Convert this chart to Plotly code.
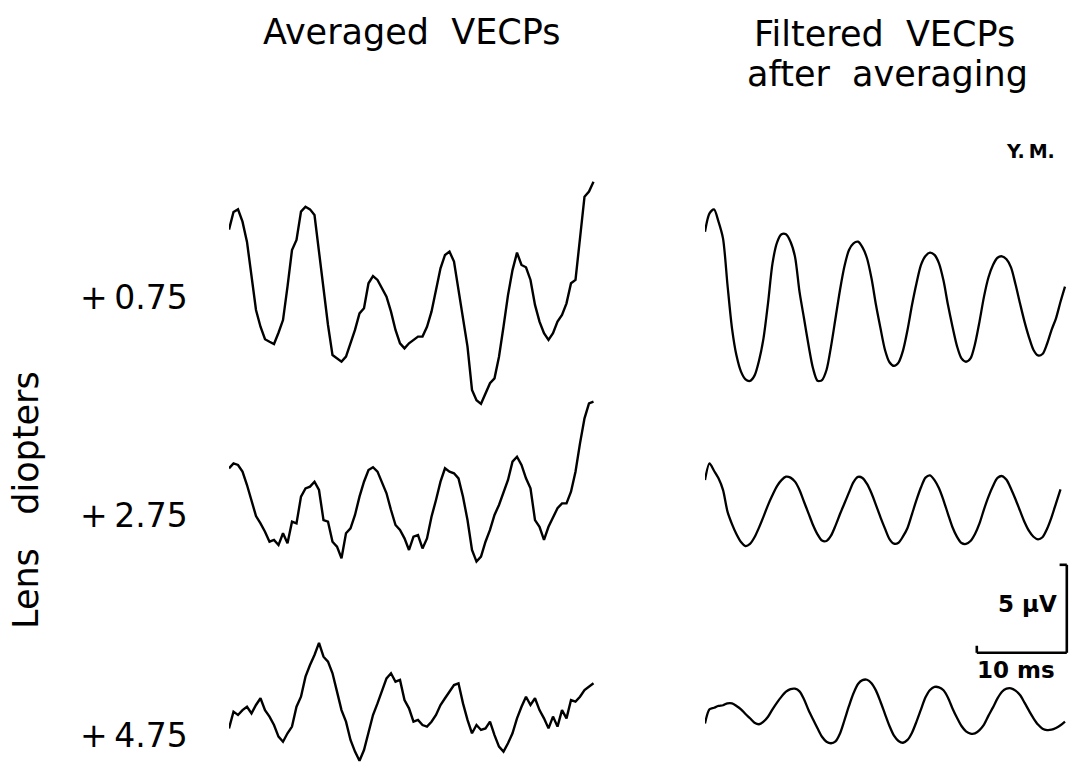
import plotly.graph_objects as go

# Averaged visually evoked cortical potentials (µV), sampled every 0.5 ms
AVG_STEP_MS = 0.5
avg_075 = [4.0, 5.0, 5.15, 4.45, 3.3, 1.33, -0.57, -1.52, -2.23, -2.37,
           -2.5, -1.86, -1.14, 0.76, 2.84, 3.41, 5.02, 5.3, 5.15, 4.83,
           2.75, 0.57, -1.42, -3.13, -3.31, -3.5, -3.22, -2.46, -1.7, -0.76,
           -0.47, 0.95, 1.36, 1.14, 0.66, 0.19, -0.66, -1.7, -2.46, -2.75,
           -2.46, -2.27, -2.08, -2.08, -1.52, -0.66, 0.66, 1.8, 2.56, 2.75,
           2.18, 0.57, -1.04, -2.65, -5.11, -5.7, -5.9, -5.3, -4.73, -4.45,
           -3.22, -1.52, 0.28, 1.7, 2.69, 1.99, 1.86, 1.14, -0.28, -1.23,
           -1.89, -2.27, -1.89, -1.23, -0.85, -0.19, 0.95, 1.14, 3.6, 5.87,
           6.16, 6.72]
avg_275 = [1.8, 2.08, 1.99, 1.61, 0.85, 0.0, -0.91, -1.33, -1.8, -2.37,
           -2.27, -2.56, -1.89, -2.46, -1.23, -1.33, 0.19, 0.66, 0.76, 1.04,
           0.57, -1.14, -1.23, -2.37, -2.65, -3.31, -1.89, -1.61, -0.85, 0.19,
           1.04, 1.7, 1.86, 1.61, 1.04, 0.38, -0.57, -1.42, -1.7, -2.18,
           -2.84, -2.08, -1.99, -2.75, -2.18, -0.95, 0.0, 1.04, 1.8, 1.61,
           1.52, 1.23, 0.19, -1.14, -2.84, -3.5, -3.22, -2.37, -1.7, -0.85,
           -0.28, 0.38, 1.14, 2.18, 2.46, 1.99, 1.23, 0.66, -1.14, -1.52,
           -2.27, -1.52, -1.04, -0.47, -0.19, -0.19, 0.47, 1.61, 3.22, 4.64,
           5.49, 5.59]
avg_475 = [-0.76, 0.19, 0.0, 0.28, 0.47, 0.09, 0.57, 0.95, 0.28, -0.09,
           -0.57, -1.23, -1.52, -1.04, -0.66, 0.47, 1.04, 2.18, 2.84, 3.41,
           4.1, 3.31, 3.03, 2.37, 1.33, 0.28, -0.38, -1.42, -2.08, -2.6,
           -1.99, -0.95, 0.0, 0.66, 1.33, 2.08, 2.37, 1.89, 1.99, 0.85,
           0.38, -0.38, -0.28, -0.57, -0.66, -0.38, 0.0, 0.57, 0.95, 1.33,
           1.7, 1.8, 0.66, -0.28, -1.04, -0.57, -0.85, -0.76, -0.38, -1.14,
           -1.8, -2.08, -1.61, -1.04, -0.19, 0.47, 1.04, 0.57, 0.95, 0.28,
           -0.19, -0.76, -0.09, -0.66, 0.28, -0.19, 0.85, 0.76, 1.04, 1.42,
           1.61, 1.8]

# Same responses after band-pass filtering (µV), sampled every 0.5 ms
FILT_STEP_MS = 0.5
filt_075 = [4.45, 5.49, 5.72, 5.02, 4.07, 1.42, -1.04, -2.59, -3.5, -3.94,
            -4.03, -3.73, -2.88, -1.61, 0.38, 2.65, 3.83, 4.3, 4.3, 3.88,
            3.03, 1.04, -0.47, -1.99, -3.31, -4.02, -3.98, -3.41, -2.08, -0.47,
            1.14, 2.5, 3.41, 3.79, 3.88, 3.56, 2.94, 1.8, 0.28, -1.04,
            -2.27, -2.97, -3.18, -2.99, -2.31, -1.14, 0.28, 1.52, 2.56, 3.07,
            3.26, 3.13, 2.65, 1.67, 0.28, -0.95, -2.05, -2.75, -2.94, -2.75,
            -1.93, -0.66, 0.76, 1.86, 2.56, 2.97, 3.05, 2.88, 2.42, 1.46,
            0.38, -0.66, -1.55, -2.27, -2.58, -2.5, -1.93, -1.14, -0.47, 0.47,
            1.33]
filt_275 = [1.7, 2.65, 2.23, 1.8, 1.14, -0.09, -0.8, -1.38, -1.82, -2.05,
            -1.93, -1.55, -1.0, -0.38, 0.28, 0.85, 1.36, 1.7, 1.89, 1.84,
            1.61, 1.14, 0.47, -0.19, -0.85, -1.38, -1.74, -1.76, -1.46, -0.89,
            -0.23, 0.38, 1.0, 1.59, 1.88, 1.82, 1.48, 0.95, 0.28, -0.42,
            -1.06, -1.65, -1.91, -1.86, -1.5, -1.02, -0.23, 0.57, 1.29, 1.84,
            1.97, 1.7, 1.23, 0.55, -0.23, -0.98, -1.53, -1.88, -1.93, -1.76,
            -1.36, -0.76, 0.04, 0.76, 1.36, 1.82, 1.93, 1.72, 1.21, 0.61,
            -0.04, -0.68, -1.19, -1.52, -1.67, -1.55, -1.08, -0.42, 0.38, 1.17]
filt_475 = [-0.76, 0.04, 0.13, 0.23, 0.27, 0.38, 0.38, 0.23, 0.04, -0.23,
            -0.47, -0.72, -0.81, -0.66, -0.38, 0.04, 0.42, 0.76, 1.04, 1.19,
            1.21, 1.06, 0.61, 0.0, -0.53, -1.04, -1.52, -1.8, -1.89, -1.78,
            -1.33, -0.57, 0.23, 0.95, 1.48, 1.7, 1.72, 1.52, 1.1, 0.47,
            -0.23, -0.91, -1.46, -1.76, -1.86, -1.7, -1.29, -0.66, 0.04, 0.72,
            1.14, 1.31, 1.29, 1.12, 0.7, 0.09, -0.44, -0.91, -1.21, -1.34,
            -1.33, -1.14, -0.83, -0.32, 0.15, 0.66, 1.04, 1.21, 1.23, 1.1,
            0.85, 0.42, -0.04, -0.47, -0.83, -1.06, -1.14, -1.12, -1.02, -0.87,
            -0.66]

lens_labels = ["+\u20090.75", "+\u20092.75", "+\u20094.75"]
scale_ms = 10
scale_uv = 5

# ---- page geometry (pixels) ----
W, H = 1074, 767
PX_PER_MS = 9.0
PX_PER_UV = 17.6
SPAN_PX = 372
HALF_PX = 160
FONT = "DejaVu Sans, sans-serif"
INK = "#000000"

# (left edge of trace, baseline row, values, step, line shape, width)
panels = [
    (229, 300, avg_075, AVG_STEP_MS, "linear", 2.4),
    (229, 500, avg_275, AVG_STEP_MS, "linear", 2.4),
    (229, 715, avg_475, AVG_STEP_MS, "linear", 2.4),
    (705, 310, filt_075, FILT_STEP_MS, "spline", 2.3),
    (705, 510, filt_275, FILT_STEP_MS, "spline", 2.3),
    (705, 710, filt_475, FILT_STEP_MS, "spline", 2.3),
]

fig = go.Figure()
layout_axes = {}
for i, (x0, y0, vals, step, shape, lw) in enumerate(panels, start=1):
    sfx = "" if i == 1 else str(i)
    t = [k * step for k in range(len(vals))]
    fig.add_trace(go.Scatter(
        x=t, y=vals, mode="lines", xaxis="x" + sfx, yaxis="y" + sfx,
        line=dict(color=INK, width=lw, shape=shape, smoothing=0.8),
        hoverinfo="skip", showlegend=False, cliponaxis=False))
    right_px = min(x0 + SPAN_PX, W)
    top_px = y0 - HALF_PX
    bot_px = min(y0 + HALF_PX, H)
    layout_axes["xaxis" + sfx] = dict(
        domain=[x0 / W, right_px / W], range=[0, (right_px - x0) / PX_PER_MS],
        visible=False, anchor="y" + sfx)
    layout_axes["yaxis" + sfx] = dict(
        domain=[1 - bot_px / H, 1 - top_px / H],
        range=[-(bot_px - y0) / PX_PER_UV, (y0 - top_px) / PX_PER_UV],
        visible=False, anchor="x" + sfx)

fig.update_layout(**layout_axes)

# calibration bracket drawn in the last filtered panel's units
bar_t1 = 40.2
bar_t0 = bar_t1 - scale_ms
bar_v0 = 3.25
bar_v1 = bar_v0 + scale_uv
bar_line = dict(color=INK, width=2.6)
shapes = [
    dict(type="line", xref="x6", yref="y6", x0=bar_t0, x1=bar_t1, y0=bar_v0, y1=bar_v0, line=bar_line),
    dict(type="line", xref="x6", yref="y6", x0=bar_t1, x1=bar_t1, y0=bar_v0, y1=bar_v1, line=bar_line),
    dict(type="line", xref="x6", yref="y6", x0=bar_t1 - 0.8, x1=bar_t1, y0=bar_v1, y1=bar_v1, line=bar_line),
    dict(type="line", xref="x6", yref="y6", x0=bar_t0, x1=bar_t0, y0=bar_v0, y1=bar_v0 + 0.4, line=bar_line),
]


def ann(text, px, py, size, weight="normal", **kw):
    return dict(text=text, x=px / W, y=1 - py / H, xref="paper", yref="paper",
                xanchor="center", yanchor="middle", showarrow=False,
                font=dict(family=FONT, size=size, color=INK, weight=weight), **kw)


SP2 = "\u00a0\u00a0"
annotations = [
    ann("Averaged" + SP2 + "VECPs", 411, 32, 35),
    ann("Filtered" + SP2 + "VECPs", 884, 34, 35),
    ann("after" + SP2 + "averaging", 887, 74, 35),
    ann("Y.\u2009M.", 1030, 151, 19, weight="bold"),
    ann(lens_labels[0], 134, 297, 33),
    ann(lens_labels[1], 134, 515, 33),
    ann(lens_labels[2], 134, 735, 33),
    ann("Lens" + SP2 + "\u00a0diopters", 26, 500, 35, textangle=-90),
    ann(f"{scale_uv}\u00a0\u00b5V", 1027, 604, 23, weight="bold"),
    ann(f"{scale_ms}\u00a0ms", 1016, 670, 23, weight="bold"),
]

fig.update_layout(
    width=W, height=H, margin=dict(l=0, r=0, t=0, b=0),
    paper_bgcolor="white", plot_bgcolor="rgba(0,0,0,0)",
    shapes=shapes, annotations=annotations,
)

fig.write_html("out.html")
